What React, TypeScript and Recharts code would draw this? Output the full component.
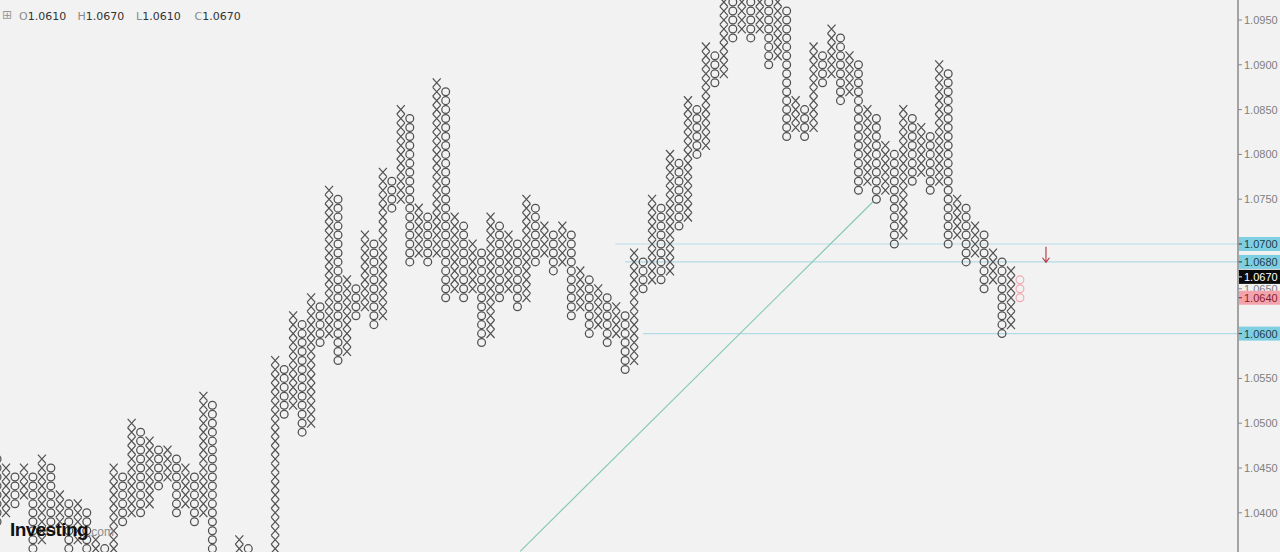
import React from 'react';
import {
  ScatterChart, Scatter, XAxis, YAxis, ReferenceLine, ReferenceDot
} from 'recharts';

// point & figure, box size 0.0010 (values below in pips: 1046 = 1.0460)
// first column (index -1) is an O column, then X/O alternate
const FIRST_COL = -1;
const colLows = [
  1039, 1040, 1041, 1042, 1036, 1037, 1038, 1039, 1036, 1037, 1034, 1035, 1032, 1033, 1039, 1040,
  1040, 1041, 1043, 1044, 1040, 1041, 1039, 1040, 1032, 1033, 1031, 1032, 1031, 1032, 1029, 1030,
  1051, 1052, 1049, 1050, 1059, 1060, 1057, 1058, 1062, 1063, 1061, 1062, 1074, 1075, 1068, 1069,
  1068, 1069, 1064, 1065, 1064, 1065, 1059, 1060, 1064, 1065, 1063, 1064, 1068, 1069, 1067, 1068,
  1062, 1063, 1060, 1061, 1059, 1060, 1056, 1057, 1065, 1066, 1066, 1067, 1072, 1073, 1080, 1081,
  1088, 1089, 1093, 1094, 1093, 1094, 1090, 1091, 1082, 1083, 1082, 1083, 1088, 1089, 1086, 1087,
  1076, 1077, 1075, 1076, 1070, 1071, 1077, 1078, 1076, 1077, 1070, 1071, 1068, 1069, 1065, 1066,
  1060, 1061,
];
const colHighs = [
  1046, 1045, 1044, 1045, 1044, 1046, 1045, 1042, 1041, 1041, 1040, 1037, 1036, 1045, 1044, 1050,
  1049, 1048, 1047, 1047, 1046, 1045, 1044, 1053, 1052, 1035, 1034, 1037, 1036, 1035, 1034, 1057,
  1056, 1062, 1061, 1064, 1063, 1076, 1075, 1066, 1065, 1071, 1070, 1078, 1077, 1085, 1084, 1074,
  1073, 1088, 1087, 1073, 1072, 1070, 1069, 1073, 1072, 1071, 1070, 1075, 1074, 1072, 1071, 1072,
  1071, 1067, 1066, 1065, 1064, 1063, 1062, 1069, 1068, 1075, 1074, 1080, 1079, 1086, 1085, 1092,
  1091, 1098, 1097, 1098, 1097, 1098, 1097, 1097, 1096, 1086, 1085, 1092, 1091, 1094, 1093, 1091,
  1090, 1085, 1084, 1081, 1080, 1085, 1084, 1083, 1082, 1090, 1089, 1075, 1074, 1072, 1071, 1069,
  1068, 1067,
];
// pending reversal column (pink O's)
const pendingCol = 113;
const pendingLow = 1064;
const pendingHigh = 1066;

const axisTicks = [1.04, 1.045, 1.05, 1.055, 1.065, 1.075, 1.08, 1.085, 1.09, 1.095, 1.06, 1.064, 1.068, 1.07, 1.067];
const legend = [
  { k: 'O', v: '1.0610' },
  { k: 'H', v: '1.0670' },
  { k: 'L', v: '1.0610' },
  { k: 'C', v: '1.0670' },
];

const specialLabels: Record<string, { bg: string; fg: string; shift: number }> = {
  '1.0700': { bg: '#7fcfe2', fg: '#1e3d4a', shift: 0 },
  '1.0680': { bg: '#7fcfe2', fg: '#1e3d4a', shift: 0 },
  '1.0670': { bg: '#0a0a0a', fg: '#ffffff', shift: 6 },
  '1.0640': { bg: '#f3a3ac', fg: '#8a1c2a', shift: 0 },
  '1.0600': { bg: '#7fcfe2', fg: '#1e3d4a', shift: 0 },
};

const X_DOMAIN: [number, number] = [-0.669, 137.3];
const Y_DOMAIN: [number, number] = [1.035625, 1.097232];

const xBoxes: { col: number; price: number }[] = [];
const oBoxes: { col: number; price: number }[] = [];
colLows.forEach((lo, i) => {
  const col = FIRST_COL + i;
  const target = i % 2 === 0 ? oBoxes : xBoxes;
  for (let b = lo; b <= colHighs[i]; b++) target.push({ col, price: b / 1000 });
});
const pendingBoxes: { col: number; price: number }[] = [];
for (let b = pendingLow; b <= pendingHigh; b++) pendingBoxes.push({ col: pendingCol, price: b / 1000 });

const INK = '#505050';

const XMark = (p: any) => {
  const { cx, cy } = p;
  return (
    <path
      d={`M${cx - 4},${cy - 4.4}L${cx + 4},${cy + 4.4}M${cx + 4},${cy - 4.4}L${cx - 4},${cy + 4.4}`}
      stroke={INK} strokeWidth={1.2} fill="none"
    />
  );
};
const OMark = (p: any) => <circle cx={p.cx} cy={p.cy} r={3.9} stroke={INK} strokeWidth={1.25} fill="none" />;
const PendingMark = (p: any) => <circle cx={p.cx} cy={p.cy} r={3.9} stroke="#f2a9b1" strokeWidth={1.2} fill="none" />;

const Arrow = (p: any) => {
  const { cx, cy } = p;
  return (
    <path
      d={`M${cx},${cy - 8}L${cx},${cy + 7}M${cx - 3.5},${cy + 3}L${cx},${cy + 7.5}L${cx + 3.5},${cy + 3}`}
      stroke="#b03444" strokeWidth={1.1} fill="none"
    />
  );
};

const AxisTick = (props: any) => {
  const { x, y, payload } = props;
  const label = Number(payload.value).toFixed(4);
  const sp = specialLabels[label];
  if (!sp) {
    return (
      <text x={x} y={y} dy="0.355em" fill="#808080" fontSize={11} fontFamily="'Liberation Sans', Arial, sans-serif">
        {label}
      </text>
    );
  }
  const yy = y + sp.shift;
  return (
    <g>
      <rect x={x - 5} y={yy - 7} width={44} height={14} fill={sp.bg} />
      <line x1={x - 5} x2={x - 2} y1={yy} y2={yy} stroke={sp.fg} strokeWidth={1} />
      <text x={x} y={yy} dy="0.355em" fill={sp.fg} fontSize={11} fontFamily="'Liberation Sans', Arial, sans-serif">
        {label}
      </text>
    </g>
  );
};

export default function App() {
  return (
    <div style={{ position: 'absolute', left: 0, top: 0, width: 1280, height: 552, background: '#f2f2f2', overflow: 'hidden' }}>
      <ScatterChart width={1280} height={552} margin={{ top: 0, right: 0, bottom: 0, left: 0 }}>
        <XAxis type="number" dataKey="col" domain={X_DOMAIN} allowDataOverflow hide />
        <YAxis
          type="number" dataKey="price" orientation="right" width={42}
          domain={Y_DOMAIN} allowDataOverflow ticks={axisTicks} interval={0}
          axisLine={{ stroke: '#555555' }} tickLine={{ stroke: '#888888' }}
          tickSize={4} tickMargin={2} tick={<AxisTick />}
        />
        <ReferenceLine segment={[{ x: 67.9, y: 1.07 }, { x: X_DOMAIN[1], y: 1.07 }]} stroke="#b3dbe7" strokeWidth={1.2} ifOverflow="visible" />
        <ReferenceLine segment={[{ x: 69, y: 1.068 }, { x: X_DOMAIN[1], y: 1.068 }]} stroke="#b3dbe7" strokeWidth={1.2} ifOverflow="visible" />
        <ReferenceLine segment={[{ x: 71, y: 1.06 }, { x: X_DOMAIN[1], y: 1.06 }]} stroke="#b3dbe7" strokeWidth={1.2} ifOverflow="visible" />
        <ReferenceLine segment={[{ x: 57.3, y: 1.0357 }, { x: 96.6, y: 1.07469 }]} stroke="#86c9b5" strokeWidth={1.2} ifOverflow="visible" />
        <Scatter data={xBoxes} dataKey="price" shape={<XMark />} isAnimationActive={false} />
        <Scatter data={oBoxes} dataKey="price" shape={<OMark />} isAnimationActive={false} />
        <Scatter data={pendingBoxes} dataKey="price" shape={<PendingMark />} isAnimationActive={false} />
        <ReferenceDot x={115.9} y={1.0688} shape={<Arrow />} ifOverflow="visible" />
      </ScatterChart>

      <div style={{ position: 'absolute', left: 2, top: 9, fontFamily: "'DejaVu Sans', Verdana, sans-serif", fontSize: 11, color: '#333' }}>
        <span style={{ position: 'absolute', left: 0, top: -1, color: '#999', fontSize: 12 }}>⊞</span>
        {legend.map((g, i) => (
          <span key={g.k} style={{ position: 'absolute', left: 17 + i * 58.5, top: 1, whiteSpace: 'nowrap' }}>
            <span style={{ color: '#8a8a8a' }}>{g.k}</span>{g.v}
          </span>
        ))}
      </div>

      <div style={{ position: 'absolute', left: 10, top: 519, whiteSpace: 'nowrap', fontFamily: "'Liberation Sans', Arial, sans-serif" }}>
        <span style={{ fontSize: 19, fontWeight: 900, color: '#111', letterSpacing: -0.6 }}>Investing</span>
        <span style={{ fontSize: 12, color: '#8c8c8c' }}>.com</span>
      </div>
    </div>
  );
}
